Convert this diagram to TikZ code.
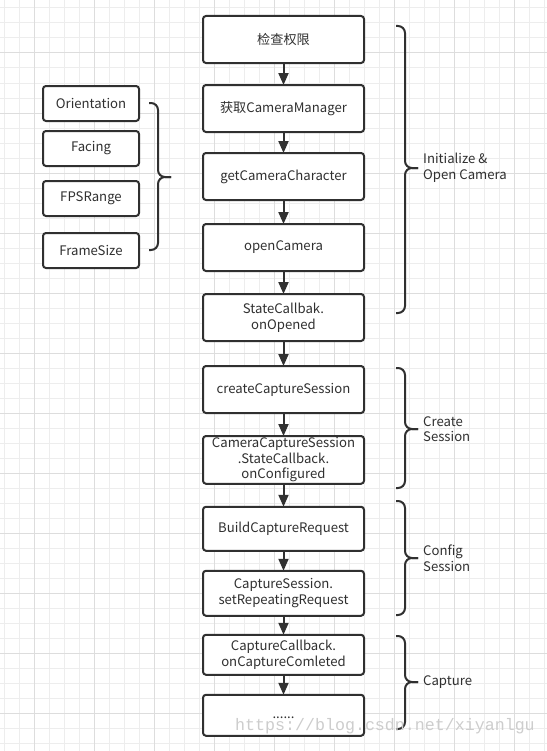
\documentclass[tikz,border=0pt]{standalone}
\usepackage{fontspec}
\setmainfont{Noto Sans CJK SC}
\newfontfamily\markfont{Liberation Mono}
\usetikzlibrary{arrows.meta,positioning}
\definecolor{GridMinor}{RGB}{237,237,237}
\definecolor{GridMajor}{RGB}{221,221,221}
\definecolor{InkGray}{RGB}{48,48,48}
\definecolor{MarkGray}{RGB}{205,205,205}
\tikzset{
  stepbox/.style={draw=InkGray,line width=2bp,rounded corners=3bp,fill=white,minimum width=161bp,minimum height=47bp,
    align=center,text=InkGray,font=\fontsize{13.2}{15.7}\selectfont,inner sep=1.5bp,outer sep=0pt},
  parambox/.style={stepbox,minimum width=96bp,minimum height=35bp},
  flow/.style={-{Triangle[width=10bp,length=12bp]},line width=2bp,draw=InkGray},
  bracket/.style={draw=InkGray,line width=2bp,rounded corners=7bp},
  phase/.style={align=left,text=InkGray,font=\fontsize{13.2}{15.7}\selectfont,inner sep=0pt},
}
% curly brace pointing right: name of tip, x of ends, top, bottom, tip y
\newcommand{\drawbrace}[5]{%
  \draw[bracket] (#2,#3) -- ++(9,0) |- (#2+22,#5) coordinate (#1);
  \draw[bracket] (#1) -| (#2+9,#4) -- (#2,#4);
}
\begin{document}
\begin{tikzpicture}[x=1bp,y=-1bp]
\useasboundingbox[fill=white] (0,0) rectangle (547,751);
% grid paper
\foreach \gx in {4,19,...,546} \draw[GridMinor,line width=1bp] (\gx,0) -- (\gx,751);
\foreach \gy in {8,23,...,750} \draw[GridMinor,line width=1bp] (0,\gy) -- (547,\gy);
\foreach \gx in {34,94,...,546} \draw[GridMajor,line width=1bp] (\gx,0) -- (\gx,751);
\foreach \gy in {53,113,...,750} \draw[GridMajor,line width=1bp] (0,\gy) -- (547,\gy);

% main flow
\node[stepbox] (perm) at (283.5,39.5) {检查权限};
\node[stepbox,below=22bp of perm] (manager) {获取CameraManager};
\node[stepbox,below=21bp of manager] (chars) {getCameraCharacter};
\node[stepbox,below=24bp of chars] (open) {openCamera};
\node[stepbox,below=23bp of open] (opened) {StateCallbak.\\onOpened};
\node[stepbox,below=25bp of opened] (create) {createCaptureSession};
\node[stepbox,below=23bp of create] (configured) {CameraCaptureSession\\.StateCallback.\\onConfigured};
\node[stepbox,below=23bp of configured,minimum height=44bp] (build) {BuildCaptureRequest};
\node[stepbox,below=20bp of build,minimum height=45bp] (repeating) {CaptureSession.\\setRepeatingRequest};
\node[stepbox,below=19bp of repeating,minimum height=40bp] (completed) {CaptureCallback.\\onCaptureComleted};
\node[stepbox,below=20bp of completed,minimum height=41bp] (more) {\vphantom{Ag}......};
\foreach \a/\b in {perm/manager,manager/chars,chars/open,open/opened,opened/create,create/configured,
  configured/build,build/repeating,repeating/completed,completed/more}
  \draw[flow] (\a) -- (\b);

% characteristics
\node[parambox] (orient) at (91,103.5) {Orientation};
\node[parambox,below=10bp of orient] (facing) {Facing};
\node[parambox,below=15bp of facing] (fps) {FPSRange};
\node[parambox,below=17bp of fps] (fsize) {FrameSize};
\drawbrace{chartip}{149}{103}{250}{177}

% phases
\drawbrace{inittip}{396}{26}{313}{168}
\node[phase,right=5bp of inittip] (init) {Initialize \&\\Open Camera};
\drawbrace{sesstip}{396}{368}{488}{429}
\node[phase,right=5bp of sesstip] (sess) {Create\\Session};
\drawbrace{conftip}{396}{501}{615}{558}
\node[phase,right=5bp of conftip] (conf) {Config\\Session};
\drawbrace{capttip}{396}{636}{729}{682}
\node[phase,right=5bp of capttip] (capt) {Capture};

\node[text=MarkGray,font=\markfont\fontsize{16.7}{20}\selectfont,inner sep=0pt] (mark) at (385,726) {https://blog.csdn.net/xiyanlgu};
\end{tikzpicture}
\end{document}
